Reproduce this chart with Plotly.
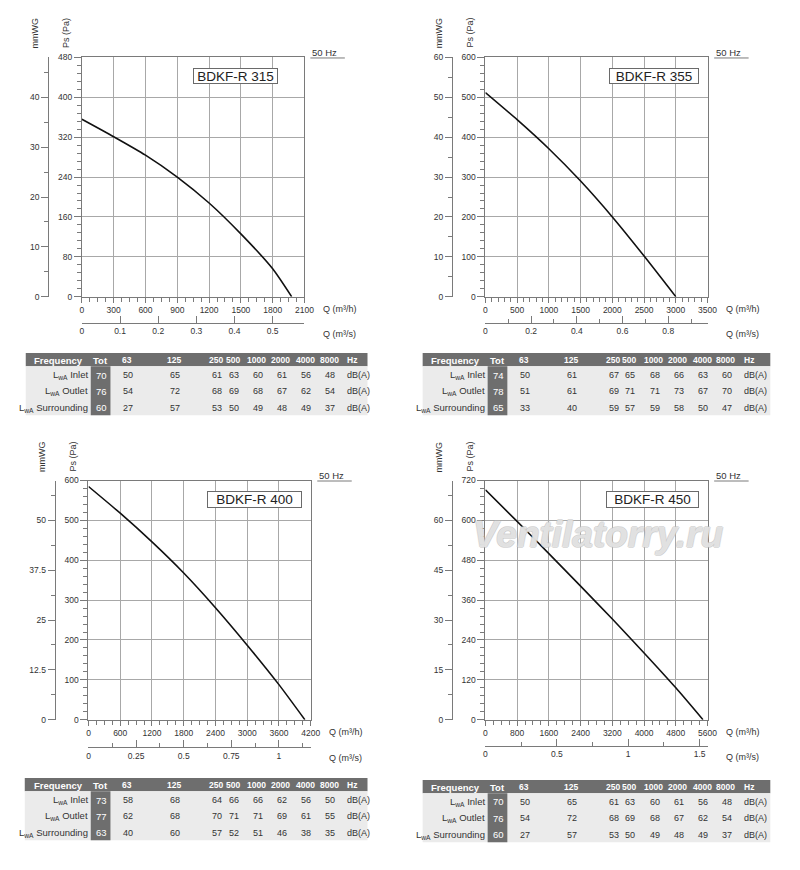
import plotly.graph_objects as go

# page body has an 8px margin; figure is sized to fit the 800x870 window
OFF = 8
W, H = 800 - OFF, 870 - OFF


def px(x):
    return (x - OFF) / W


def py(y):
    return 1 - (y - OFF) / H


# ---------------- data ----------------
models = ["BDKF-R 315", "BDKF-R 355", "BDKF-R 400", "BDKF-R 450"]

q_315 = [0, 300, 600, 900, 1200, 1500, 1800, 1979]
ps_315 = [356, 321, 284, 240, 188, 126, 56, 0]

q_355 = [0, 500, 1000, 1500, 2000, 2500, 3000]
ps_355 = [512, 444, 371, 290, 200, 102, 0]

q_400 = [0, 600, 1200, 1800, 2400, 3000, 3600, 4090]
ps_400 = [585, 518, 446, 368, 281, 187, 88, 0]

q_450 = [0, 800, 1600, 2400, 3200, 4000, 4800, 5484]
ps_450 = [692, 597, 500, 402, 303, 201, 96, 0]

freq_bands = ["63", "125", "250", "500", "1000", "2000", "4000", "8000"]
row_names = ["Inlet", "Outlet", "Surrounding"]

tot_315 = [70, 76, 60]
inlet_315 = [50, 65, 61, 63, 60, 61, 56, 48]
outlet_315 = [54, 72, 68, 69, 68, 67, 62, 54]
surr_315 = [27, 57, 53, 50, 49, 48, 49, 37]

tot_355 = [74, 78, 65]
inlet_355 = [50, 61, 67, 65, 68, 66, 63, 60]
outlet_355 = [51, 61, 69, 71, 71, 73, 67, 70]
surr_355 = [33, 40, 59, 57, 59, 58, 50, 47]

tot_400 = [73, 77, 63]
inlet_400 = [58, 68, 64, 66, 66, 62, 56, 50]
outlet_400 = [62, 68, 70, 71, 71, 69, 61, 55]
surr_400 = [40, 60, 57, 52, 51, 46, 38, 35]

tot_450 = [70, 76, 60]
inlet_450 = [50, 65, 61, 63, 60, 61, 56, 48]
outlet_450 = [54, 72, 68, 69, 68, 67, 62, 54]
surr_450 = [27, 57, 53, 50, 49, 48, 49, 37]

# axis scales per model
q_max = [2100, 3500, 4200, 5600]
q_dtick = [300, 500, 600, 800]
q_minor = [75, 100, 150, 200]
ps_max = [480, 600, 600, 720]
ps_dtick = [80, 100, 100, 120]
ps_minor = [16, 20, 20, 24]
mm_max = [48, 60, 60, 72]
mm_dtick = [10, 10, 12.5, 15]
mm_minor = [5, 5, 6.25, 7.5]
qs_dtick = [0.1, 0.2, 0.25, 0.5]
qs_minor = [None, 0.1, 0.125, 0.25]

curves = [(q_315, ps_315), (q_355, ps_355), (q_400, ps_400), (q_450, ps_450)]
tables = [
    (tot_315, [inlet_315, outlet_315, surr_315]),
    (tot_355, [inlet_355, outlet_355, surr_355]),
    (tot_400, [inlet_400, outlet_400, surr_400]),
    (tot_450, [inlet_450, outlet_450, surr_450]),
]

# ---------------- layout geometry (pixels in the window) ----------------
panels = [
    dict(px0=81, px1=307, py0=53, py1=295, mmx=46.7, qsy=321.7,
         box=(194, 279, 64, 80), hz=313, lab_y=28),
    dict(px0=490.7, px1=716.3, py0=53, py1=295, mmx=456.7, qsy=321.7,
         box=(617, 707, 64, 80), hz=723, lab_y=28),
    dict(px0=87.7, px1=313.3, py0=481, py1=723, mmx=53.3, qsy=751,
         box=(209, 304, 492, 509), hz=320, lab_y=457),
    dict(px0=490.7, px1=716.3, py0=481, py1=723, mmx=456.7, qsy=749.3,
         box=(614, 707, 492, 509), hz=723, lab_y=457),
]
table_geo = [
    dict(left=24, right=371, top=352, off=0),
    dict(left=427, right=780, top=352, off=403),
    dict(left=23, right=371, top=782, off=0),
    dict(left=427, right=780, top=784, off=403),
]

FONT = "Liberation Sans, Arial, sans-serif"
TXT = "#333333"
AX = "#7a7a7a"
GRID = "#a8a8a8"
DARK = "#6e6e6e"
LIGHT = "#ebebeb"

fig = go.Figure()
annotations = []
shapes = []
layout_axes = {}


def axname(kind, n):
    return kind + ("" if n == 1 else str(n))


for i, p in enumerate(panels):
    nm = 2 * i + 1
    ns = 2 * i + 2
    q, ps = curves[i]
    fig.add_trace(go.Scatter(
        x=q, y=ps, mode="lines",
        line=dict(color="#111111", width=1.6, shape="spline", smoothing=0.6),
        xaxis=axname("x", nm), yaxis=axname("y", nm), showlegend=False, hoverinfo="skip"))
    # anchor trace for the secondary (m3/s, mmWG) axes
    fig.add_trace(go.Scatter(
        x=[0], y=[0], mode="markers", marker=dict(opacity=0),
        xaxis=axname("x", ns), yaxis=axname("y", ns), showlegend=False, hoverinfo="skip"))

    xd = [px(p["px0"]), px(p["px1"])]
    yd = [py(p["py1"]), py(p["py0"])]
    tickfont = dict(family=FONT, size=8.5, color=TXT)

    layout_axes[axname("xaxis", nm)] = dict(
        domain=xd, range=[0, q_max[i]], anchor=axname("y", nm), tick0=0, dtick=q_dtick[i],
        showgrid=True, gridcolor=GRID, gridwidth=1, zeroline=False,
        showline=True, linecolor=AX, linewidth=1, mirror=True,
        ticks="outside", ticklen=5, tickcolor=AX, tickfont=tickfont,
        minor=dict(dtick=q_minor[i], tick0=0, ticks="outside", ticklen=4, tickcolor=AX, showgrid=False),
        fixedrange=True)
    layout_axes[axname("yaxis", nm)] = dict(
        domain=yd, range=[0, ps_max[i]], anchor=axname("x", nm), tick0=0, dtick=ps_dtick[i],
        showgrid=True, gridcolor=GRID, gridwidth=1, zeroline=False,
        showline=True, linecolor=AX, linewidth=1, mirror=True,
        ticks="outside", ticklen=7, tickcolor=AX, tickfont=tickfont,
        minor=dict(dtick=ps_minor[i], tick0=0, ticks="outside", ticklen=4, tickcolor=AX, showgrid=False),
        fixedrange=True)
    qs_axis = dict(
        overlaying=axname("x", nm), anchor="free", position=py(p["qsy"]), side="bottom",
        range=[0, q_max[i] / 3600], tick0=0, dtick=qs_dtick[i],
        showgrid=False, zeroline=False, showline=True, linecolor=AX, linewidth=1,
        ticks="inside", ticklen=7, tickcolor=AX, tickfont=tickfont, fixedrange=True)
    if qs_minor[i]:
        qs_axis["minor"] = dict(dtick=qs_minor[i], tick0=0, ticks="inside", ticklen=4,
                                tickcolor=AX, showgrid=False)
    layout_axes[axname("xaxis", ns)] = qs_axis
    layout_axes[axname("yaxis", ns)] = dict(
        overlaying=axname("y", nm), anchor="free", position=px(p["mmx"]), side="left",
        range=[0, mm_max[i]], tick0=0, dtick=mm_dtick[i],
        showgrid=False, zeroline=False, showline=True, linecolor=AX, linewidth=1,
        ticks="outside", ticklen=7, tickcolor=AX, tickfont=tickfont,
        minor=dict(dtick=mm_minor[i], tick0=0, ticks="outside", ticklen=4, tickcolor=AX, showgrid=False),
        fixedrange=True)

    small = dict(family=FONT, size=9, color=TXT)
    annotations.append(dict(text="mmWG", x=px(p["mmx"] - 13.5), y=py(p["lab_y"]), xref="paper", yref="paper",
                            textangle=-90, showarrow=False, font=small, xanchor="center", yanchor="middle"))
    annotations.append(dict(text="Ps (Pa)", x=px(p["px0"] - 16), y=py(p["lab_y"]), xref="paper", yref="paper",
                            textangle=-90, showarrow=False, font=small, xanchor="center", yanchor="middle"))
    annotations.append(dict(text="Q (m³/h)", x=px(p["px1"] + 17), y=py(p["py1"] + 12.5), xref="paper",
                            yref="paper", showarrow=False, font=small, xanchor="left", yanchor="middle"))
    annotations.append(dict(text="Q (m³/s)", x=px(p["px1"] + 17), y=py(p["qsy"] + 11), xref="paper",
                            yref="paper", showarrow=False, font=small, xanchor="left", yanchor="middle"))
    annotations.append(dict(text="50 Hz", x=px(p["hz"]), y=py(p["py0"] - 5.5), xref="paper", yref="paper",
                            showarrow=False, font=dict(family=FONT, size=9.5, color=TXT),
                            xanchor="left", yanchor="middle"))
    shapes.append(dict(type="line", xref="paper", yref="paper", x0=px(p["hz"]), x1=px(p["hz"] + 35),
                       y0=py(p["py0"] + 0.5), y1=py(p["py0"] + 0.5), line=dict(color=AX, width=1)))
    bx0, bx1, by0, by1 = p["box"]
    annotations.append(dict(text=models[i], x=px((bx0 + bx1) / 2), y=py((by0 + by1) / 2),
                            xref="paper", yref="paper", showarrow=False,
                            font=dict(family=FONT, size=13.5, color="#222222"),
                            width=bx1 - bx0 - 2, height=by1 - by0 - 2, borderpad=0,
                            bordercolor="#6a6a6a", borderwidth=1, bgcolor="white",
                            xanchor="center", yanchor="middle"))

# watermark
annotations.append(dict(text="Ventilatorry.ru", x=px(605), y=py(536), xref="paper", yref="paper",
                        showarrow=False, xanchor="center", yanchor="middle",
                        font=dict(family=FONT, size=37, color="rgba(255,255,255,0.55)", weight="bold",
                                  style="italic",
                                  shadow="1px 0 0 #bdbdbd, -1px 0 0 #bdbdbd, 0 1px 0 #bdbdbd, 0 -1px 0 #bdbdbd")))

# ---------------- noise tables ----------------
HH, RH = 13.5, 16.5
col_tot = 100
col_pos = [127, 175, 217, 234, 258.5, 283, 308, 332]
col_unit = 348
lab_right = 89
freq_center = 57

for i, g in enumerate(table_geo):
    tot, rows = tables[i]
    left, right, top, off = g["left"], g["right"], g["top"], g["off"]
    bottom = top + HH + 3 * RH
    shapes.append(dict(type="rect", xref="paper", yref="paper", x0=px(left), x1=px(right),
                       y0=py(top), y1=py(top + HH), fillcolor=DARK, line=dict(width=0), layer="below"))
    shapes.append(dict(type="rect", xref="paper", yref="paper", x0=px(left), x1=px(right),
                       y0=py(top + HH), y1=py(bottom), fillcolor=LIGHT, line=dict(width=0), layer="below"))
    shapes.append(dict(type="rect", xref="paper", yref="paper", x0=px(90 + off), x1=px(110 + off),
                       y0=py(top + HH), y1=py(bottom), fillcolor=DARK, line=dict(width=0), layer="below"))
    hy = py(top + HH / 2 + 0.5)
    hfont = dict(family=FONT, size=9.5, color="white", weight="bold")
    hfont2 = dict(family=FONT, size=8.5, color="white", weight="bold")
    annotations.append(dict(text="Frequency", x=px(freq_center + off), y=hy, xref="paper", yref="paper",
                            showarrow=False, font=hfont, xanchor="center", yanchor="middle"))
    annotations.append(dict(text="Tot", x=px(col_tot + off), y=hy, xref="paper", yref="paper",
                            showarrow=False, font=hfont, xanchor="center", yanchor="middle"))
    for fb, cx in zip(freq_bands, col_pos):
        annotations.append(dict(text=fb, x=px(cx + off), y=hy, xref="paper", yref="paper",
                                showarrow=False, font=hfont2, xanchor="center", yanchor="middle"))
    annotations.append(dict(text="Hz", x=px(col_unit + off), y=hy, xref="paper", yref="paper",
                            showarrow=False, font=hfont2, xanchor="left", yanchor="middle"))
    cfont = dict(family=FONT, size=9, color=TXT)
    for r, (rn, vals) in enumerate(zip(row_names, rows)):
        ry = py(top + HH + RH * r + RH / 2 + 0.5)
        annotations.append(dict(text="L<sub>wA</sub> " + rn, x=px(lab_right + off), y=ry, xref="paper",
                                yref="paper", showarrow=False, font=dict(family=FONT, size=9.5, color=TXT),
                                xanchor="right", yanchor="middle"))
        annotations.append(dict(text=str(tot[r]), x=px(col_tot + 1 + off), y=ry, xref="paper", yref="paper",
                                showarrow=False, font=dict(family=FONT, size=9.5, color="white"),
                                xanchor="center", yanchor="middle"))
        for v, cx in zip(vals, col_pos):
            annotations.append(dict(text=str(v), x=px(cx + 1 + off), y=ry, xref="paper", yref="paper",
                                    showarrow=False, font=cfont, xanchor="center", yanchor="middle"))
        annotations.append(dict(text="dB(A)", x=px(col_unit + off), y=ry, xref="paper", yref="paper",
                                showarrow=False, font=cfont, xanchor="left", yanchor="middle"))

fig.update_layout(
    width=W, height=H, autosize=False,
    margin=dict(l=0, r=0, t=0, b=0),
    paper_bgcolor="white", plot_bgcolor="white",
    showlegend=False,
    font=dict(family=FONT, color=TXT),
    annotations=annotations, shapes=shapes,
    **layout_axes,
)

fig.write_html("out.html")
